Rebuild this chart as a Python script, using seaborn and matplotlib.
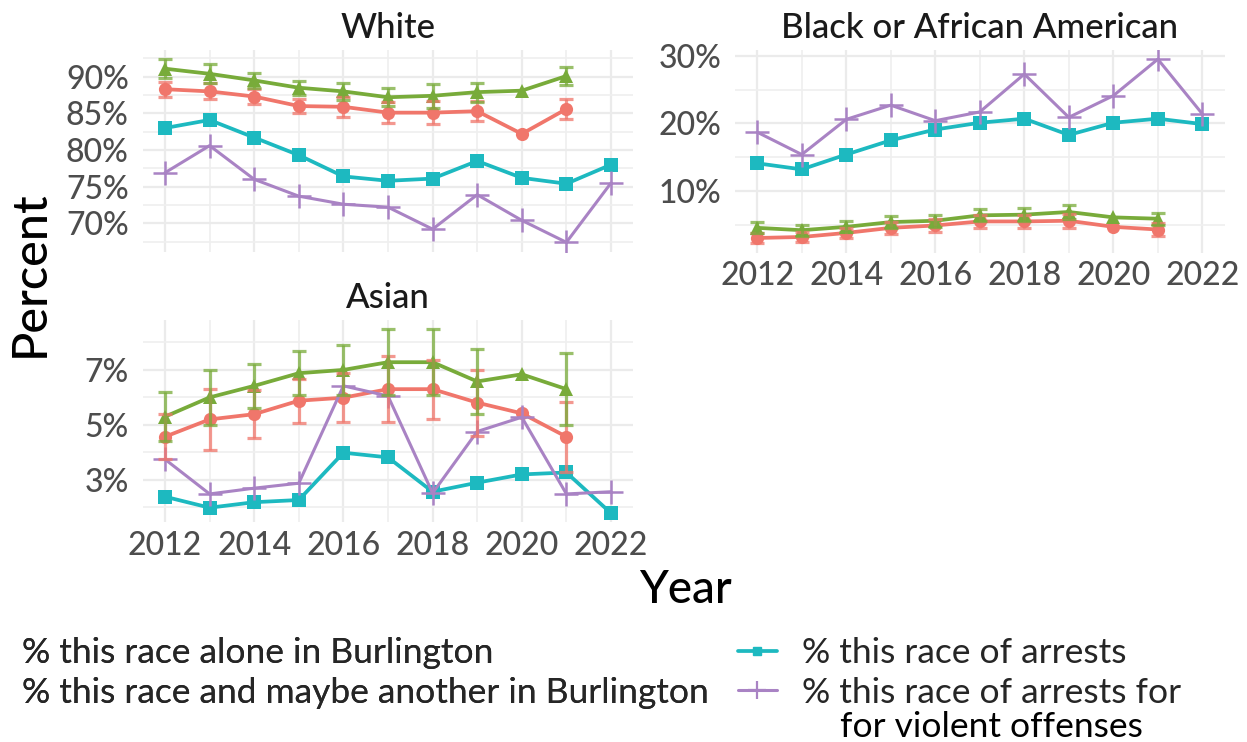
import numpy as np
import pandas as pd
import matplotlib
matplotlib.use("Agg")
import matplotlib.pyplot as plt
from matplotlib.lines import Line2D
from matplotlib.ticker import MultipleLocator, FuncFormatter
import seaborn as sns

nan = np.nan
years = list(range(2012, 2023))
panels = ["White", "Black or African American", "Asian"]
series_names = [
    "% this race alone in Burlington",
    "% this race and maybe another in Burlington",
    "% this race of arrests",
    "% this race of arrests for",
]
series_extra_line = "for violent offenses"

# White
white_alone = [88.3, 88.0, 87.3, 86.0, 85.9, 85.1, 85.1, 85.3, 82.2, 85.6, nan]
white_alone_err = [1.0, 1.1, 1.0, 0.95, 1.4, 1.4, 1.6, 1.4, nan, 1.4, nan]
white_maybe = [91.1, 90.4, 89.5, 88.5, 88.0, 87.2, 87.4, 87.9, 88.1, 90.1, nan]
white_maybe_err = [1.3, 1.3, 1.0, 0.95, 1.2, 1.2, 1.6, 1.3, nan, 1.25, nan]
white_arrests = [83.0, 84.1, 81.7, 79.3, 76.4, 75.8, 76.1, 78.5, 76.2, 75.4, 78.0]
white_violent = [76.9, 80.6, 76.0, 73.7, 72.6, 72.2, 69.2, 73.9, 70.4, 67.4, 75.5]

# Black or African American
black_alone = [3.05, 3.2, 3.8, 4.55, 4.9, 5.5, 5.5, 5.6, 4.7, 4.3, nan]
black_alone_err = [0.8, 0.8, 0.8, 0.9, 0.9, 0.9, 1.0, 1.0, nan, 1.0, nan]
black_maybe = [4.55, 4.2, 4.7, 5.4, 5.6, 6.4, 6.5, 6.9, 6.1, 5.9, nan]
black_maybe_err = [0.8, 0.8, 0.8, 0.9, 0.9, 0.9, 1.0, 1.0, nan, 0.9, nan]
black_arrests = [14.1, 13.2, 15.4, 17.5, 19.1, 20.1, 20.7, 18.3, 20.1, 20.7, 19.9]
black_violent = [18.7, 15.4, 20.6, 22.7, 20.4, 21.7, 27.3, 20.9, 24.1, 29.5, 21.4]

# Asian
asian_alone = [4.57, 5.2, 5.39, 5.88, 5.99, 6.3, 6.3, 5.81, 5.42, 4.57, nan]
asian_alone_err = [0.82, 1.1, 0.87, 0.8, 0.9, 1.2, 1.07, 1.2, nan, 1.27, nan]
asian_maybe = [5.3, 6.0, 6.42, 6.88, 7.0, 7.28, 7.28, 6.58, 6.84, 6.3, nan]
asian_maybe_err = [0.9, 1.0, 0.8, 0.8, 0.9, 1.2, 1.2, 1.19, nan, 1.32, nan]
asian_arrests = [2.39, 1.99, 2.19, 2.27, 3.99, 3.82, 2.57, 2.9, 3.2, 3.27, 1.79]
asian_violent = [3.75, 2.49, 2.7, 2.88, 6.42, 6.05, 2.52, 4.76, 5.28, 2.49, 2.57]

panel_data = {
    "White": (white_alone, white_alone_err, white_maybe, white_maybe_err, white_arrests, white_violent),
    "Black or African American": (black_alone, black_alone_err, black_maybe, black_maybe_err, black_arrests, black_violent),
    "Asian": (asian_alone, asian_alone_err, asian_maybe, asian_maybe_err, asian_arrests, asian_violent),
}

colors = {
    series_names[0]: "#F0766B",
    series_names[1]: "#78AB3A",
    series_names[2]: "#1DB9C0",
    series_names[3]: "#A983C4",
}
marker_map = {series_names[0]: "o", series_names[1]: "^", series_names[2]: "s"}

rows = []
for p in panels:
    a, ae, m, me, ar, v = panel_data[p]
    for i, y in enumerate(years):
        for name, vals, errs in [(series_names[0], a, ae), (series_names[1], m, me),
                                 (series_names[2], ar, None), (series_names[3], v, None)]:
            rows.append({"Panel": p, "Year": y, "Series": name, "Percent": vals[i],
                         "Err": (errs[i] if errs is not None else nan)})
df = pd.DataFrame(rows)

sns.set_theme(style="whitegrid")
plt.rcParams["font.family"] = ["Lato", "DejaVu Sans"]

fig = plt.figure(figsize=(12.47, 7.42), dpi=100)
W, H = 1247, 742


def rect(x0, x1, y0, y1):
    return [x0 / W, 1 - y1 / H, (x1 - x0) / W, (y1 - y0) / H]


axes = {
    "White": fig.add_axes(rect(142.7, 633.3, 50, 251.5)),
    "Black or African American": fig.add_axes(rect(735, 1224.6, 50, 252.6)),
    "Asian": fig.add_axes(rect(142.7, 633.3, 320, 522.4)),
}
# (major step, major offset, minor step)
yticks = {
    "White": (5, 0, 2.5),
    "Black or African American": (10, 0, 5),
    "Asian": (2, 1, 1),
}

for p in panels:
    ax = axes[p]
    sub = df[df["Panel"] == p]
    filled = sub[sub["Series"] != series_names[3]].dropna(subset=["Percent"])
    sns.lineplot(data=filled, x="Year", y="Percent", hue="Series", style="Series",
                 palette=colors, markers=marker_map, dashes=False, linewidth=2.7,
                 markersize=9.5, markeredgewidth=0, legend=False, ax=ax, zorder=3)
    viol = sub[sub["Series"] == series_names[3]]
    sns.lineplot(data=viol, x="Year", y="Percent", color=colors[series_names[3]],
                 marker="+", markersize=17, markeredgewidth=1.8,
                 markeredgecolor=colors[series_names[3]], linewidth=2.2,
                 legend=False, ax=ax, zorder=3)
    for name in series_names[:2]:
        s = sub[sub["Series"] == name]
        ax.errorbar(s["Year"], s["Percent"], yerr=s["Err"], fmt="none",
                    ecolor=colors[name], alpha=0.75, elinewidth=2.3,
                    capsize=5, capthick=2.3, zorder=4)
    lo = np.nanmin(sub["Percent"] - sub["Err"].fillna(0))
    hi = np.nanmax(sub["Percent"] + sub["Err"].fillna(0))
    r = hi - lo
    ax.set_ylim(lo - 0.05 * r, hi + 0.05 * r)
    ax.set_xlim(2011.5, 2022.5)
    maj, off, mnr = yticks[p]
    ax.yaxis.set_major_locator(MultipleLocator(maj, offset=off))
    ax.yaxis.set_minor_locator(MultipleLocator(mnr))
    ax.xaxis.set_major_locator(MultipleLocator(2))
    ax.xaxis.set_minor_locator(MultipleLocator(1))
    ax.yaxis.set_major_formatter(FuncFormatter(lambda v, pos: f"{v:.0f}%"))
    ax.grid(which="major", color="#EBEBEB", linewidth=1.6)
    ax.grid(which="minor", color="#EFEFEF", linewidth=1.2)
    ax.set_facecolor("white")
    for s in ax.spines.values():
        s.set_visible(False)
    ax.tick_params(axis="both", which="both", length=0, labelsize=23,
                   labelcolor="#4D4D4D")
    for lab in ax.get_xticklabels() + ax.get_yticklabels():
        lab.set_fontweight("medium")
    ax.tick_params(axis="y", pad=10)
    ax.tick_params(axis="x", pad=6)
    ax.set_xlabel("")
    ax.set_ylabel("")
    ax.set_title(p, fontsize=25, color="#1A1A1A", pad=9, fontweight="medium")
    if p == "White":
        ax.tick_params(axis="x", labelbottom=False)

fig.text(30 / W, 1 - 274 / H, "Percent", rotation=90, fontsize=35,
         ha="center", va="center", color="black", fontweight="medium")
fig.text(685 / W, 1 - 590 / H, "Year", fontsize=33, ha="center", va="center",
         color="black", fontweight="medium")

# legend: first column has no visible keys
empty = [Line2D([], [], linestyle="none") for _ in range(2)]
leg1 = fig.legend(empty, series_names[:2], loc="upper left",
                  bbox_to_anchor=(22 / W, 1 - 637 / H), frameon=False,
                  handlelength=0, handletextpad=0, fontsize=25.5,
                  labelspacing=0.22, borderpad=0, borderaxespad=0)
h2 = [Line2D([], [], color=colors[series_names[2]], marker="s", markersize=6,
             linewidth=2.7),
      Line2D([], [], color=colors[series_names[3]], marker="+", markersize=13,
             markeredgewidth=1.6, linewidth=2.2)]
leg2 = fig.legend(h2, series_names[2:], loc="upper left",
                  bbox_to_anchor=(738 / W, 1 - 637 / H), frameon=False,
                  handlelength=1.1, handletextpad=0.7, fontsize=25.5,
                  labelspacing=0.22, borderpad=0, borderaxespad=0)
fig.add_artist(leg1)

# second line of the last legend label, centred under the first line
fig.canvas.draw()
bb = leg2.get_texts()[1].get_window_extent()
fig.text((bb.x0 + bb.x1) / 2 / W, (bb.y0 - 2) / H, series_extra_line,
         fontsize=25.5, ha="center", va="top", color="black")

fig.savefig("out.png", dpi=100, facecolor="white")
